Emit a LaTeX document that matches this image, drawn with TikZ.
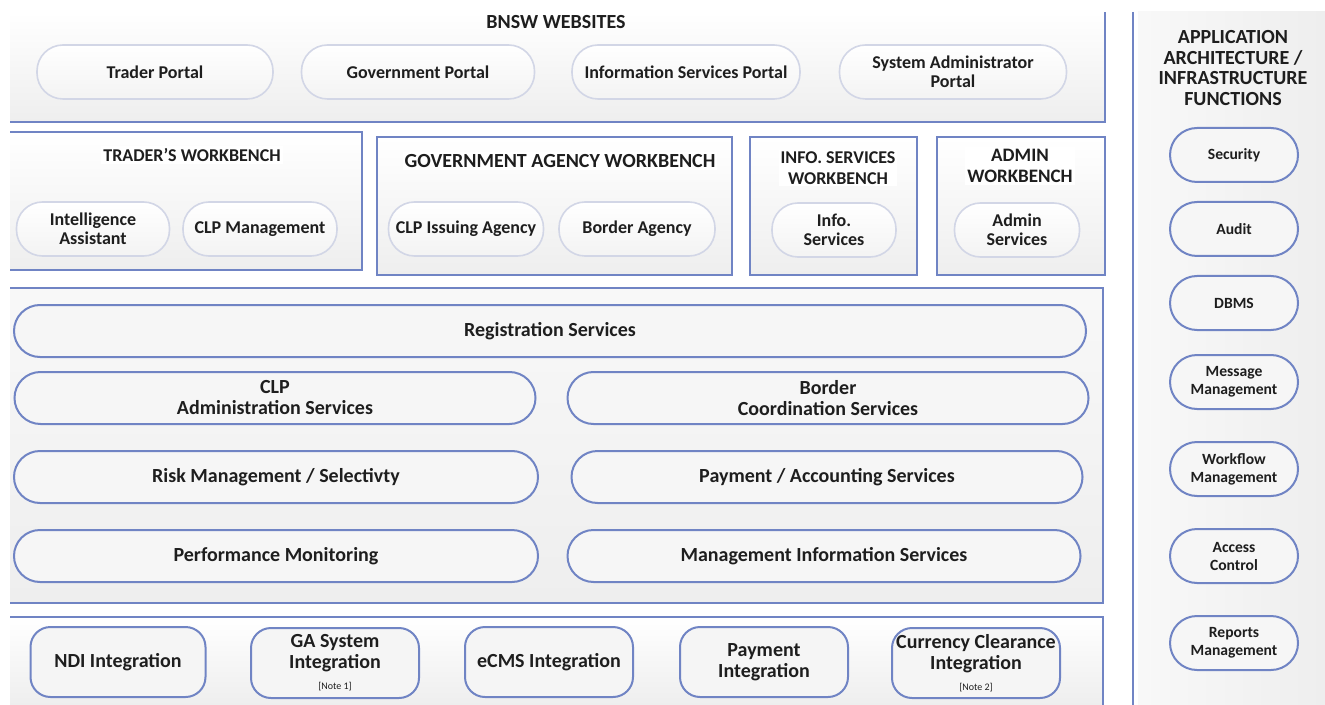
\documentclass[tikz,border=0pt]{standalone}
\usepackage{fontspec}
\setmainfont{Carlito}
\definecolor{frameblue}{RGB}{112,132,196}
\definecolor{softline}{RGB}{210,214,230}
\definecolor{panelgray}{RGB}{238,238,238}
\definecolor{inktext}{RGB}{30,30,30}
\newcommand{\smallnote}{\mdseries\fontsize{5}{6}\selectfont}

\begin{document}
\begin{tikzpicture}[x=0.5pt, y=-0.5pt,
  every node/.style={font=\bfseries\fontsize{9}{9.5}\selectfont, text=inktext, align=center, inner sep=1pt},
  frame/.style={draw=frameblue, line width=1.3pt},
  portal/.style={draw=softline, line width=0.8pt, top color=white, bottom color=panelgray!70, rounded corners=13pt, minimum height=27pt},
  service/.style={draw=frameblue, line width=1pt, fill=white!50!panelgray, rounded corners=13pt, minimum height=26pt, font=\bfseries\fontsize{10}{10.5}\selectfont},
  integ/.style={draw=frameblue, line width=1pt, fill=white!40!panelgray, rounded corners=10pt, minimum width=84pt, minimum height=35pt, font=\bfseries\fontsize{10}{10.5}\selectfont},
  infra/.style={draw=frameblue, line width=1pt, fill=white!50!panelgray, rounded corners=13.5pt, minimum width=64pt, minimum height=27pt, font=\bfseries\fontsize{7.8}{9}\selectfont},
  title/.style={fill=white, font=\bfseries\fontsize{9}{10.5}\selectfont}]
  \useasboundingbox (0,0) rectangle (1325,705);

  % Panels
  \fill[top color=white, bottom color=panelgray] (10,12) rectangle (1105,122);
  \draw[frame] (10,122) -- (1105,122) -- (1105,12);
  \fill[top color=white, bottom color=panelgray] (10,132) rectangle (362,270);
  \draw[frame] (10,132) -- (362,132) -- (362,270) -- (10,270);
  \draw[frame, top color=white, bottom color=panelgray] (377,137) rectangle (732,275);
  \draw[frame, top color=white, bottom color=panelgray] (750,137) rectangle (917,275);
  \draw[frame, top color=white, bottom color=panelgray] (937,137) rectangle (1105,275);
  \fill[top color=white!60!panelgray, bottom color=panelgray] (10,288) rectangle (1103,603);
  \draw[frame] (10,288) -- (1103,288) -- (1103,603) -- (10,603);
  \fill[top color=white, bottom color=panelgray] (10,617) rectangle (1103,705);
  \draw[frame] (10,617) -- (1103,617) -- (1103,710);
  \fill[left color=white!60!panelgray, right color=panelgray] (1138,12) rectangle (1325,705);
  \draw[frame] (1133,12) -- (1133,710);

  % BNSW websites
  \node[font=\bfseries\fontsize{10}{11}\selectfont] (webtitle) at (556,22) {BNSW WEBSITES};
  \node[portal, minimum width=118pt] (traderportal) at (155,72) {Trader Portal};
  \node[portal, minimum width=116.5pt] (govportal) at (418,72) {Government Portal};
  \node[portal, minimum width=114pt] (infoportal) at (686,72) {Information Services Portal};
  \node[portal, minimum width=113.5pt] (adminportal) at (953,72) {System Administrator\\Portal};

  % Workbenches
  \node[title] (tradertitle) at (192,155) {TRADER'S WORKBENCH};
  \node[portal, minimum width=76.5pt] (intelassist) at (93,229) {Intelligence\\Assistant};
  \node[portal, minimum width=77pt] (clpmgmt) at (260,229) {CLP Management};
  \node[title, font=\bfseries\fontsize{10}{11}\selectfont] (govtitle) at (560,161) {GOVERNMENT AGENCY WORKBENCH};
  \node[portal, minimum width=77.5pt] (clpissuing) at (466,229) {CLP Issuing Agency};
  \node[portal, minimum width=78pt] (borderagency) at (637,229) {Border Agency};
  \node[title] (infotitle) at (838,168) {INFO. SERVICES\\WORKBENCH};
  \node[portal, minimum width=62pt] (infoservices) at (834,230) {Info.\\Services};
  \node[title, font=\bfseries\fontsize{9.5}{10.5}\selectfont] (admintitle) at (1020,166) {ADMIN\\WORKBENCH};
  \node[portal, minimum width=62.5pt] (adminservices) at (1017,230) {Admin\\Services};

  % Core services
  \node[service, minimum width=536pt] (registration) at (550,331) {Registration Services};
  \node[service, minimum width=260.5pt] (clpadmin) at (275,398) {CLP\\Administration Services};
  \node[service, minimum width=260.5pt] (bordercoord) at (828,398) {Border\\Coordination Services};
  \node[service, minimum width=262pt] (risk) at (276,477) {Risk Management / Selectivty};
  \node[service, minimum width=255.5pt] (payacc) at (827,477) {Payment / Accounting Services};
  \node[service, minimum width=262pt] (perfmon) at (276,556) {Performance Monitoring};
  \node[service, minimum width=256.5pt] (mis) at (824,556) {Management Information Services};

  % Integration
  \node[integ, minimum width=87.5pt] (ndi) at (118,662) {NDI Integration};
  \node[integ] (gasys) at (335,663) {GA System\\Integration\\{\smallnote [Note 1]}};
  \node[integ] (ecms) at (549,662) {eCMS Integration};
  \node[integ] (payint) at (764,662) {Payment\\Integration};
  \node[integ] (currency) at (976,663) {Currency Clearance\\Integration\\{\smallnote [Note 2]}};

  % Infrastructure functions
  \node[font=\bfseries\fontsize{10}{10.4}\selectfont] (infratitle) at (1233,68) {APPLICATION\\ARCHITECTURE /\\INFRASTRUCTURE\\FUNCTIONS};
  \node[infra] (security) at (1234,155) {Security};
  \node[infra] (audit) at (1234,229) {Audit};
  \node[infra] (dbms) at (1234,303) {DBMS};
  \node[infra] (message) at (1234,382) {Message\\Management};
  \node[infra] (workflow) at (1234,469) {Workflow\\Management};
  \node[infra] (access) at (1234,556) {Access\\Control};
  \node[infra] (reports) at (1234,643) {Reports\\Management};
\end{tikzpicture}
\end{document}
